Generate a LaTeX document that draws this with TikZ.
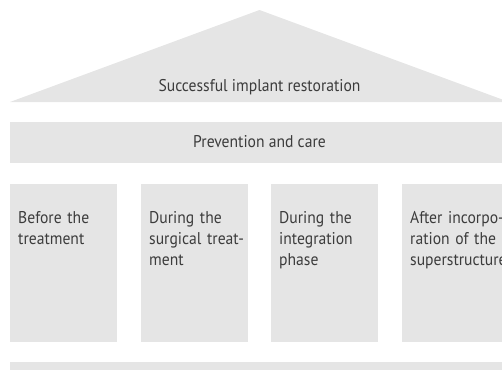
\documentclass[tikz,border=0pt]{standalone}
\usepackage{fontspec}
\setmainfont{PT Sans}[FakeStretch=0.92]
\definecolor{roofgray}{HTML}{E5E5E5}
\definecolor{inkgray}{HTML}{3C3C3C}
\begin{document}
\begin{tikzpicture}[x=1pt,y=-1pt,
        block/.style={fill=roofgray,draw=none,anchor=north west,inner sep=0pt},
        pillar/.style={block,minimum width=107pt,minimum height=158pt},
        caption/.style={text=inkgray,font=\fontsize{17}{21}\selectfont,inner sep=0pt},
        pillartext/.style={caption,anchor=base west,text width=110pt,align=left}]
    \useasboundingbox (0,0) rectangle (502,369);
    \clip (0,0) rectangle (502,369);
    % roof
    \fill[roofgray] (10,102) -- (259.5,10) -- (509,102) -- cycle;
    \node[caption,anchor=base] (roof) at (259.5,91) {Successful implant restoration};
    % beam
    \node[block,minimum width=499pt,minimum height=41pt] (beam) at (10,122) {};
    \node[caption,anchor=base] (care) at (259.5,147) {Prevention and care};
    % pillars
    \node[pillar] (before) at (10,184) {};
    \node[pillar] (surgery) at (141,184) {};
    \node[pillar] (integration) at (271,184) {};
    \node[pillar] (after) at (402,184) {};
    \node[pillartext] (beforetext) at ([xshift=8pt,yshift=-39pt]before.north west) {Before the\\treatment};
    \node[pillartext] (surgerytext) at ([xshift=8pt,yshift=-39pt]surgery.north west) {During the\\surgical treat-\\ment};
    \node[pillartext] (integrationtext) at ([xshift=8pt,yshift=-39pt]integration.north west) {During the\\integration\\phase};
    \node[pillartext] (aftertext) at ([xshift=8pt,yshift=-39pt]after.north west) {After incorpo-\\ration of the\\superstructure};
    % base
    \node[block,minimum width=499pt,minimum height=20pt] (base) at (10,362) {};
\end{tikzpicture}
\end{document}
